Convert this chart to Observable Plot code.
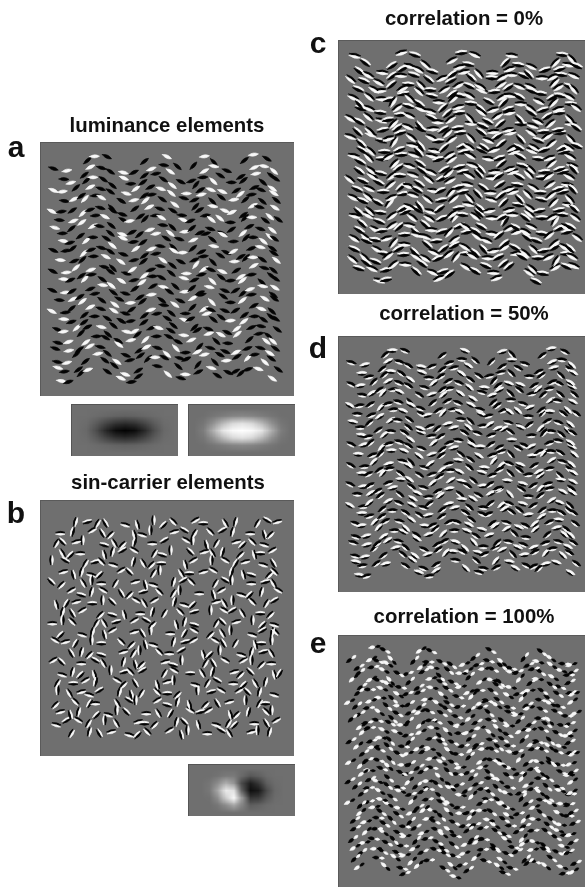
<!DOCTYPE html>
<html><head><meta charset="utf-8">
<script src="https://cdn.jsdelivr.net/npm/d3@7"></script>
<script src="https://cdn.jsdelivr.net/npm/@observablehq/plot@0.6"></script>
<style>
html,body{margin:0;padding:0;background:#fff;overflow:hidden}
#page{position:relative;width:585px;height:887px;overflow:hidden;font-family:"Liberation Sans",Arial,sans-serif;font-weight:700;color:#111}
#page div{position:absolute;line-height:1;white-space:nowrap;filter:blur(0.3px)}
</style></head><body><div id="page"></div>
<script>
// stimulus sampling columns / rows, in panel units
const colsX=[15,25,35,45,55,65,75,85,95,105,115,125,135,145,155,165,175,185,195,205,215,225,235];
const rowsY=[22,32,42,52,62,72,82,92,102,112,122,132,142,152,162,172,182,192,202,212,222,232];
const rowShift=[0,2,-1,2,-2,1,-2,1,-1,2,-1,2,-2,1,-2,2,0,-1,2,-2,1,-1];
// wave profile read per column (vertical offset, local orientation in degrees)
const waveYA=[5,8,5,-4,-9,-6,2,9,6,-4,-9,-6,2,9,2,-9,-4,8,6,-5,-9,-4,5];
const waveAA=[20,-5,-35,-40,-5,30,40,15,-30,-40,-5,30,40,0,-45,-10,40,25,-30,-40,-5,35,35];
const waveYC=[-5,0,7,9,1,-9,-6,2,8,7,-4,-9,-6,5,9,0,-9,-5,5,9,0,-9,-5];
const waveAC=[25,35,30,0,-45,-10,30,40,10,-30,-40,0,35,35,-5,-45,-5,35,30,-5,-45,0,35];
const waveYD=[5,8,5,-4,-9,-6,2,9,6,-4,-9,-6,2,9,4,-8,-6,7,7,-4,-9,-5,5];
const waveAD=[20,-5,-35,-40,-5,30,40,15,-30,-40,-5,30,40,5,-40,-20,40,25,-30,-40,-5,35,35];
const waveYE=[2,-5,-9,-7,2,9,4,-7,-8,-2,7,8,-1,-9,-6,4,9,1,-9,-6,2,8,5];
const waveAE=[-35,-35,-5,25,40,5,-40,-30,15,35,30,-15,-40,-10,30,35,5,-45,-15,30,35,10,-25];
// element grids: lower case = dark, upper case = light, letter = small placement offset
const gridA=["bA.cDa.Bed.Ac.bDea.dBaE","aEcBdbAecDaBedCAbdeCAdb","DBacEdbCAeadBCaeDBcdAeB","cAdBebdAcbEDacbEdABceAd","EbdAcBedaCbdAecBdAEcbdA","bCAedacBdBeaCdbAEdcAbEc","AdbEcAbDeacBdAecBdbaEcD","CedAbdAcbEaDbCedAcAbdEb","dabCecBdAeAcdBeabcDaeDb","BcAedbEacDbAecdAbCedBaD","eCAbdAecBdaEbCAdeBcaEbd","AbdEcbDaCebdAcAedbEAcdb","dCeAbdBcaEdbcAebDacDbeA","bAedAcbDeaCbdAeBcdaEAcb","EcbDaeAcbdBeAcdbEacDbAe","AdcBeAdbcEadCbAedBcaDeb","cBAedcbADeacbEdAbcAEdbc","eDabCedAbcDaeCbdAeBcadE","bAcEdbAecBdaEbcAdbEcaDb","dEbAcdEacBdEabDcaBedcAb","AbcdAebDcaEbcDaBecdAbEc","CdaE.bAcd.bEa.dCb.aeD.B"];
const gridB=["..bFcK.hl.aDj.eG.kb.cIf","gB.eKd.lhA.fIc.jEb.gLd.","cJfa.HkdB.gE.iaLc.fDjh.","kDg.lbEi.cHa.JfkB.dlGe.","aI.cFjh.BkdG.le.AiCf.hK","fLbhD.eJ.ca.kGfi.BlH.dj","Jd.kAgc.fLh.bEj.cIa.gFk",".eHbi.KdF.jcA.gLe.hDb.i","lCf.GaJ.ike.BhD.fkA.jcE","bKe.dHl.gBc.jF.aiEk.Gd.","gAj.ckF.eId.lbH.cJf.aDh","D.hbLe.fKa.gCi.dkA.hEbj","ifC.aG.jdLh.bFe.iKc.lGa",".KbdH.fcA.jgE.lDa.hbFk.","eJ.gIk.bLd.fHa.cKi.eAdg","hbDl.aFjE.ci.GkB.fdJ.lC","c.GeB.idK.lfA.hcI.gDkb.","AkfhE.bLc.jGd.aFi.eJb.h","d.jCg.kIa.eHbl.dKf.AcG.","fLb.DhaJ.gkC.iFe.ldB.ja","hEic.Ak.fGd.bJl.hcD.gKe",".c.bKf.hDj.eLa.gIk.fAb."];
const gridC=["aC.dEbAcD.eBa.dCe.bAcDe","DbeACdbEaCdBeAcdBEacDbA","eAcbDeAdBcEaDbCedAbEcDa","BdaEcBdAeCbDaEcBdAeCbDe","cEbDaCeBdAcEbDaCeBdAcEb","AdcEbDaCeBdAcEbDaCeBdAc","dBeAcDbEaCdBeAcDbEaCdBe","EaCdBeAcDbEaCdBeAcDbEaC","bDeCaBdEcAdBeCaDbEcAdBe","CeAbDcEaBdCeAbDcEaBdCeA","aBdEcDaBeCdAbEcDaBeCdAb","DcEaBdCeAbDcEaBdCeAbDcE","eAbCdEaBcDeAbCdEaBcDeAb","BdEcAdBeCaDbEcAdBeCaDbE","cAeDbCaEdBcAeDbCaEdBcAe","EbDaCeBdAcEbDaCeBdAcEbD","aDcBeAdCbEaDcBeAdCbEaDc","CeBdAcEbDaCeBdAcEbDaCeB","dAcEbDaCeBdAcEbDaCeBdAc","BeDaCbEdAcBeDaCbEdAcBeD","eCbAdDcBeEaCbAdDcBeEaCb","A.cE.bD.aC.eB.dA.cE.bDa"];
const gridD=["bA.cDa.Bed.Ac.bDea.dBaE","AecBdbAecdaBedcAbdeCadB","dBacEdBcAeaDbCaedBcdAeB","cAdBebdAcbeDaCbEdaBceAd","EbdAcBedaCbDAecBdaEcbdA","bcAedAcBdbeACdbaEdcAbEc","AdbEcAbDeAcBdaEcBdbaEcD","CedAbdAcbEaDbcEdAcAbdEb","dAbCecBdAeAcdBeAbcDaedB","BcAedbEAcdbAEcdAbCedbAD","ecAbDAecBdAebCAdeBcAebD","AbdEcBdaCeBdAcAedbEAcdB","dCeAbdBcAedBcAebdAcDbeA","bAedAcBdeACbdAeBcdAeAcB","EcBdAeAcbDBeAcdbEAcdbAe","AdcBeAdBcEAdcbAedBcADeb","cBAedcBAdeAcbEdAbcAEdbc","eDAbcEdAbcdAeCBdAeBcAdE","bAcEdBAecBdAEbcAdbEcADb","dEbAcdEAcbDEAbdcABedcAb","AbcdAeBdcAEbcdABecdAbEc","Cd.E.bAcD.bEa.dCB.aED.B"];
const gridE=["b.AcD.aBe.dAc.bDea.dBaE","dAeBdbCecdABedcAbdECAdb","AbaCEdbcAeaDbCaeDBcdAeb","cAdBEbdAcbeDACbEdaBceaD","EbdAcBedACbdAecbdAEcbdA","bCAedacBDbeaCdBaEdcAbeC","adbEcAbDeacBDaecBdBaEcd","CedaBdAcbEaDbcEdAcabdEB","dAbCecbDAeacdBEabcDaeDb","BcAedBEacDbAecdAbCeDbaD","EcAbdAecBdaEbCadEBcaebD","AbdEcbdACebdAcAedbEacDb","dCEabdBcaEdbcAeBdAcDbeA","baEdAcbDeACbdaeBcDaeAcB","EcbDaEAcbdBeAcdbEacDbAe","adCBeAdbcEAdcbAEdbcADeb","cBAedcbADeacBEdabCAedBc","eDabcEdAbCdaeCBdaeBcAdE","bAcEdbaEcBdAebcAdBecaDb","DEbacDEacbdEAbdcaBEdcAb","abCdAeBdcaEbCdaBecDabEc","C.aE.bAc.bEa.dCb.aeD.bA"];
const patchDark=[
 [111,111,111,111,111,111,111,111,111,111,111],
 [111,111,108,104,100,98,100,104,108,111,111],
 [111,108,92,70,52,45,52,70,92,108,111],
 [111,105,78,40,12,3,12,40,78,105,111],
 [111,108,92,70,52,45,52,70,92,108,111],
 [111,111,108,104,100,98,100,104,108,111,111],
 [111,111,111,111,111,111,111,111,111,111,111]];
const patchLight=[
 [111,111,111,111,111,111,111,111,111,111,111],
 [111,112,118,125,132,135,132,125,118,112,111],
 [111,118,145,185,215,225,215,185,145,118,111],
 [111,125,175,230,250,255,250,230,175,125,111],
 [111,118,145,185,215,225,215,185,145,118,111],
 [111,112,118,125,132,135,132,125,118,112,111],
 [111,111,111,111,111,111,111,111,111,111,111]];
const patchSin=[
 [111,111,111,111,111,111,111,111,111,111,111,111,111],
 [111,111,111,115,122,122,105,88,96,108,111,111,111],
 [111,111,118,140,175,150,70,30,55,95,108,111,111],
 [111,111,120,165,235,225,90,15,25,75,105,111,111],
 [111,111,113,140,205,250,150,55,60,90,108,111,111],
 [111,111,111,118,140,165,130,95,100,108,111,111,111],
 [111,111,111,111,111,111,111,111,111,111,111,111,111]];
const titleTexts=["luminance elements","sin-carrier elements","correlation = 0%","correlation = 50%","correlation = 100%"];
const panelLetters=["a","b","c","d","e"];

const page=document.getElementById("page");
const BG="#6f6f6f";
const dyBy={a:-1.8,b:-0.9,c:0,d:0.9,e:1.8};
const dxBy={a:1.5,b:-2,c:2,d:-1,e:-1.5};
function lens(off,shift,w){return {draw(c,l){
  c.moveTo(off,shift);c.quadraticCurveTo(off+w,shift-l/2,off,shift-l);c.quadraticCurveTo(off-w,shift-l/2,off,shift);c.closePath();}};}
function waveElements(grid,wy,wa,tilt){
  const out=[];
  grid.forEach((row,r)=>{[...row].forEach((ch,c)=>{
    if(ch==="."||c>=colsX.length)return;
    const k=ch.toLowerCase(),odd=r%2===1&&c<colsX.length-1;
    // odd rows sit half a column along the wave profile
    const py=odd?(wy[c]+wy[c+1])/2:wy[c],pa=odd?(wa[c]+wa[c+1])/2:wa[c];
    out.push({x:colsX[c]+(odd?5:0)+rowShift[r]+dxBy[k],y:rowsY[r]+py+dyBy[k],a:pa+dyBy[k]*tilt+90,light:ch!==k});
  });});
  return out;
}
function orientElements(grid){
  const out=[];
  grid.forEach((row,r)=>{[...row].forEach((ch,c)=>{
    if(ch==="."||c>=colsX.length)return;
    const k=ch.toLowerCase(),i=k.charCodeAt(0)-97;
    out.push({x:colsX[c]+(r%2&&c<colsX.length-1?5:0)+rowShift[r]+(i%3-1)*2,y:rowsY[r]+(i%4-1.5)*1.6,a:i*15,light:ch!==k});
  });});
  return out;
}
const tone=(d,same)=>(d.light===same?"#f8f8f8":"#040404");
function lobeMark(els,o){
  return Plot.vector(els,{x:"x",y:"y",rotate:"a",length:o.len,anchor:"middle",shape:lens(o.off,o.shift||0,o.w),
    fill:d=>tone(d,o.same),stroke:d=>tone(d,o.same),strokeWidth:0.6,strokeLinecap:"round"});
}
function place(node,left,top,blur){node.style.position="absolute";node.style.left=left+"px";node.style.top=top+"px";node.style.maxWidth="none";node.style.background=BG;node.style.filter="blur("+blur+"px)";page.appendChild(node);}
function panel(left,top,els,lobes,S2){
  const S=254,H=S2||S;
  const n=Plot.plot({width:S,height:H,margin:0,x:{domain:[0,S],range:[0,S],axis:null},y:{domain:[0,H],range:[0,H],axis:null},
    marks:[...lobes.map(o=>lobeMark(els,o)),Plot.frame({stroke:"#5a5a5a"})]});
  place(n,left,top,0.4);
}
function patch(left,top,rows){
  const W=107,H=52;
  const n=Plot.plot({width:W,height:H,margin:0,x:{domain:[0,1],range:[0,W],axis:null},y:{domain:[0,1],range:[0,H],axis:null},
    color:{type:"linear",domain:[0,255],range:["#000","#fff"]},
    marks:[Plot.raster(rows.flat(),{width:rows[0].length,height:rows.length,x1:0,x2:1,y1:0,y2:1,fill:d=>d}),Plot.frame({stroke:"#555"})]});
  place(n,left,top,0.3);
}
panel(40,142,waveElements(gridA,waveYA,waveAA,3),[{len:10,off:0,w:3.2,same:true}]);
panel(40,500,orientElements(gridB),[{len:9,off:-1,w:2,same:true},{len:9,off:1,w:2,same:false}],256);
panel(338,40,waveElements(gridC,waveYC,waveAC,7),[{len:11.5,off:-1.1,w:2.7,same:true},{len:11.5,off:1.1,w:2.7,same:false}]);
panel(338,336,waveElements(gridD,waveYD,waveAD,5),[{len:10,off:-0.5,w:3,same:true},{len:7,off:1.5,w:1.6,same:false}],256);
panel(338,635,waveElements(gridE,waveYE,waveAE,4),[{len:6.5,off:0,w:3.2,same:true,shift:3},{len:5,off:0.3,w:2.6,same:false,shift:-3}]);
patch(71,404,patchDark);
patch(188,404,patchLight);
patch(188,764,patchSin);
function label(text,size,baseline,center){
  const d=document.createElement("div");d.textContent=text;d.style.fontSize=size+"px";
  d.style.top=(baseline-0.8465*size)+"px";d.style.left=center+"px";d.style.transform="translateX(-50%)";page.appendChild(d);
}
[[132,167],[489,168],[25,464],[320,464],[623,464]].forEach((p,i)=>label(titleTexts[i],20.4,p[0],p[1]));
[[157,16],[523,16],[53,318],[358,318],[653,318]].forEach((p,i)=>label(panelLetters[i],30,p[0],p[1]));
</script></body></html>
